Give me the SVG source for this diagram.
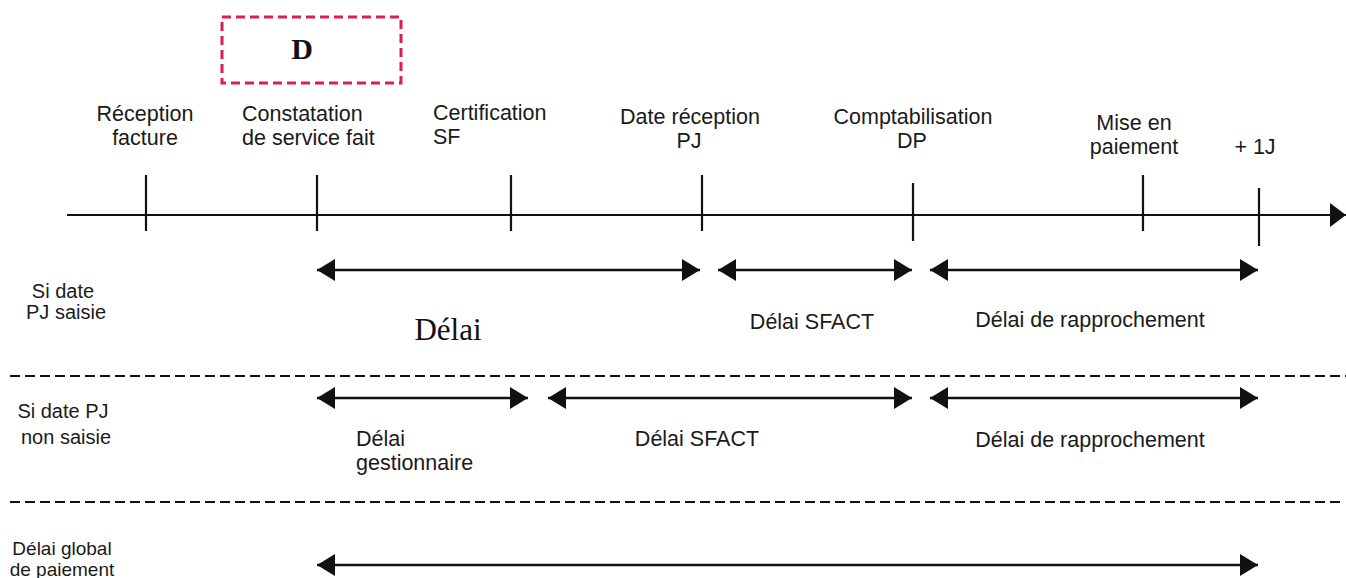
<svg xmlns="http://www.w3.org/2000/svg" width="1346" height="578" viewBox="0 0 1346 578">
<defs>
<style>
.t{font-family:"Liberation Sans",Arial,sans-serif;font-size:21.5px;fill:#1a1a1a}
.s{font-size:20px}
.xs{font-size:19px}
.m{text-anchor:middle}
.ln{stroke:#111;stroke-width:2.2;fill:none}
.dash{stroke:#111;stroke-width:2.2;stroke-dasharray:10 5;fill:none}
.arr{stroke:#111;stroke-width:2.6;fill:none;marker-start:url(#ah);marker-end:url(#ah)}
</style>
<marker id="ah" viewBox="0 0 18 22" refX="18" refY="11" markerWidth="18" markerHeight="22" markerUnits="userSpaceOnUse" orient="auto-start-reverse">
<path d="M0,0 L18,11 L0,22 z" fill="#111"/>
</marker>
<marker id="ax" viewBox="0 0 16 24" refX="16" refY="12" markerWidth="16" markerHeight="24" markerUnits="userSpaceOnUse" orient="auto">
<path d="M0,0 L16,12 L0,24 z" fill="#111"/>
</marker>
</defs>
<rect width="1346" height="578" fill="#fff"/>

<g id="box-D">
<rect x="222" y="17" width="179" height="66" fill="none" stroke="#d8204a" stroke-width="3" stroke-dasharray="9 5"/>
<text x="302" y="59" text-anchor="middle" font-family="Liberation Serif,serif" font-weight="bold" font-size="30" fill="#111">D</text>
</g>

<g id="axis">
<line class="ln" x1="67" y1="215" x2="1346" y2="215" marker-end="url(#ax)"/>
<line class="ln" x1="146" y1="175" x2="146" y2="231"/>
<line class="ln" x1="317" y1="175" x2="317" y2="231"/>
<line class="ln" x1="511" y1="175" x2="511" y2="231"/>
<line class="ln" x1="702" y1="175" x2="702" y2="231"/>
<line class="ln" x1="913" y1="183" x2="913" y2="241"/>
<line class="ln" x1="1143" y1="175" x2="1143" y2="231"/>
<line class="ln" x1="1259" y1="188" x2="1259" y2="246"/>
</g>

<g id="lbl-reception"><text class="t m" x="145" y="121">Réception</text><text class="t m" x="145" y="145">facture</text></g>
<g id="lbl-constatation"><text class="t" x="242" y="121">Constatation</text><text class="t" x="242" y="145">de service fait</text></g>
<g id="lbl-certification"><text class="t" x="433" y="120">Certification</text><text class="t" x="433" y="144">SF</text></g>
<g id="lbl-datepj"><text class="t m" x="690" y="124">Date réception</text><text class="t m" x="689" y="148">PJ</text></g>
<g id="lbl-compta"><text class="t m" x="913" y="124">Comptabilisation</text><text class="t m" x="912" y="148">DP</text></g>
<g id="lbl-mise"><text class="t m" x="1134" y="130">Mise en</text><text class="t m" x="1134" y="154">paiement</text></g>
<g id="lbl-plus1j"><text class="t m" x="1255" y="154">+ 1J</text></g>

<g id="row1">
<text class="t s m" x="63" y="298">Si date</text><text class="t s m" x="66" y="319">PJ saisie</text>
<text x="448" y="340" text-anchor="middle" font-family="Liberation Serif,serif" font-size="31" fill="#111">Délai</text>
<text class="t m" x="812" y="329">Délai SFACT</text>
<text class="t m" x="1090" y="327">Délai de rapprochement</text>
</g>

<g id="row2">
<text class="t s m" x="63" y="418">Si date PJ</text><text class="t s m" x="66" y="444">non saisie</text>
<text class="t" x="356" y="446">Délai</text><text class="t" x="356" y="470">gestionnaire</text>
<text class="t m" x="697" y="446">Délai SFACT</text>
<text class="t m" x="1090" y="447">Délai de rapprochement</text>
</g>

<g id="row3">
<text class="t xs m" x="62" y="555">Délai global</text><text class="t xs m" x="62" y="576">de paiement</text>
</g>

<g id="separators">
<line class="dash" x1="10" y1="376" x2="1346" y2="376"/>
<line class="dash" x1="10" y1="502" x2="1340" y2="502"/>
</g>

<g id="connectors">
<line class="arr" x1="317" y1="270" x2="700" y2="270"/>
<line class="arr" x1="718" y1="270" x2="912" y2="270"/>
<line class="arr" x1="930" y1="270" x2="1258" y2="270"/>
<line class="arr" x1="317" y1="398" x2="528" y2="398"/>
<line class="arr" x1="548" y1="398" x2="912" y2="398"/>
<line class="arr" x1="930" y1="398" x2="1258" y2="398"/>
<line class="arr" x1="317" y1="565" x2="1258" y2="565"/>
</g>
</svg>
